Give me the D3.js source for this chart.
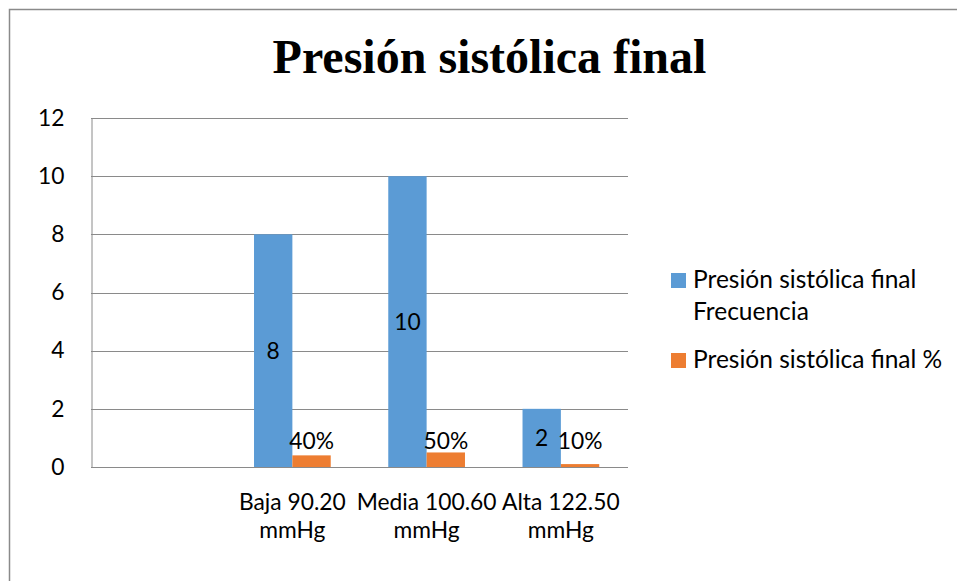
<!DOCTYPE html>
<html>
<head>
<meta charset="utf-8">
<script src="https://cdn.jsdelivr.net/npm/d3@7"></script>
<style>
  html, body { margin: 0; padding: 0; background: #fff; }
  svg { display: block; }
  text { font-family: Lato, "Noto Sans", sans-serif; fill: #000; }
</style>
</head>
<body>
<svg id="chart" width="957" height="581"></svg>
<script>
// Chart content
const title = "Presión sistólica final";
const categories = ["", "Baja 90.20 mmHg", "Media 100.60 mmHg", "Alta 122.50 mmHg"];
const seriesNames = ["Presión sistólica final Frecuencia", "Presión sistólica final %"];
const frecuencia = [null, 8, 10, 2];
const porcentaje = [null, 0.4, 0.5, 0.1];
const yTicks = [0, 2, 4, 6, 8, 10, 12];

const colors = ["#5B9BD5", "#ED7D31"];
const gridColor = "#8a8a8a";
const fontSize = 22.8;
const legendFontSize = 24.5;

const svg = d3.select("#chart");
const W = 957, H = 581;
const plot = { left: 91, top: 118, right: 628, bottom: 467 };

// Outer chart frame
svg.append("path")
  .attr("d", `M9.5,${H} V9.5 H${W}`)
  .attr("fill", "none")
  .attr("stroke", gridColor)
  .attr("stroke-width", 1.5);

// Title
svg.append("text")
  .attr("x", 489.5)
  .attr("y", 73)
  .attr("text-anchor", "middle")
  .style("font-family", "'Liberation Serif', 'Times New Roman', serif")
  .style("font-weight", "bold")
  .style("font-size", "48px")
  .text(title);

// Scales
const x0 = d3.scaleBand()
  .domain(categories)
  .range([plot.left, plot.right])
  .paddingInner(0)
  .paddingOuter(0);

const x1 = d3.scaleBand()
  .domain([0, 1])
  .range([0, x0.bandwidth()])
  .paddingInner(0)
  .paddingOuter(0.75);

const y = d3.scaleLinear()
  .domain([0, 12])
  .range([plot.bottom, plot.top]);

// Horizontal gridlines
svg.append("g")
  .selectAll("line")
  .data(yTicks)
  .join("line")
  .attr("x1", plot.left)
  .attr("x2", plot.right)
  .attr("y1", d => Math.round(y(d)) + 0.5)
  .attr("y2", d => Math.round(y(d)) + 0.5)
  .attr("stroke", gridColor)
  .attr("stroke-width", 1);

// Y axis
const yAxis = svg.append("g")
  .attr("transform", `translate(${plot.left + 0.5},0)`)
  .call(d3.axisLeft(y).tickValues(yTicks).tickSize(0).tickPadding(27));
yAxis.select(".domain").attr("stroke", gridColor);
yAxis.selectAll("text")
  .style("font-family", "Lato, 'Noto Sans', sans-serif")
  .style("font-size", fontSize + "px")
  .attr("fill", "#000");

// Bars
const rows = categories.map((c, i) => ({ cat: c, values: [frecuencia[i], porcentaje[i]] }));

const groups = svg.append("g")
  .selectAll("g")
  .data(rows)
  .join("g")
  .attr("transform", d => `translate(${x0(d.cat)},0)`);

groups.selectAll("rect")
  .data(d => d.values.map((v, k) => ({ v, k })).filter(e => e.v != null))
  .join("rect")
  .attr("x", d => x1(d.k))
  .attr("width", x1.bandwidth())
  .attr("y", d => y(d.v))
  .attr("height", d => y(0) - y(d.v))
  .attr("fill", d => colors[d.k]);

// Frequency labels, centred inside the blue bars
groups.filter(d => d.values[0] != null)
  .append("text")
  .attr("x", x1(0) + x1.bandwidth() / 2)
  .attr("y", d => (y(d.values[0]) + y(0)) / 2)
  .attr("dy", "0.35em")
  .attr("text-anchor", "middle")
  .style("font-size", fontSize + "px")
  .text(d => d.values[0]);

// Percentage labels above the orange bars
groups.filter(d => d.values[1] != null)
  .append("text")
  .attr("x", x1(1) + x1.bandwidth() / 2)
  .attr("y", y(0) - 18)
  .attr("text-anchor", "middle")
  .style("font-size", fontSize + "px")
  .text(d => Math.round(d.values[1] * 100) + "%");

// Category labels, wrapped before the unit
const xLabels = svg.append("g");
categories.forEach(c => {
  if (!c) return;
  const cut = c.lastIndexOf(" ");
  const lines = [c.slice(0, cut), c.slice(cut + 1)];
  const t = xLabels.append("text")
    .attr("x", x0(c) + x0.bandwidth() / 2)
    .attr("y", 510)
    .attr("text-anchor", "middle")
    .style("font-size", fontSize + "px");
  lines.forEach((ln, i) => {
    t.append("tspan")
      .attr("x", x0(c) + x0.bandwidth() / 2)
      .attr("dy", i === 0 ? 0 : 28)
      .text(ln);
  });
});

// Legend
const legend = svg.append("g").attr("transform", "translate(671,0)");
const legendTop = [273, 353];
const maxLegendWidth = 262;
seriesNames.forEach((name, k) => {
  const g = legend.append("g").attr("transform", `translate(0,${legendTop[k]})`);
  g.append("rect")
    .attr("width", 15)
    .attr("height", 15)
    .attr("fill", colors[k]);
  const t = g.append("text")
    .attr("x", 22)
    .attr("y", 15)
    .style("font-size", legendFontSize + "px");
  // word wrap to the available width
  const words = name.split(" ");
  let line = [];
  let span = t.append("tspan").attr("x", 22).attr("dy", 0);
  words.forEach(w => {
    line.push(w);
    span.text(line.join(" "));
    if (span.node().getComputedTextLength() > maxLegendWidth && line.length > 1) {
      line.pop();
      span.text(line.join(" "));
      line = [w];
      span = t.append("tspan").attr("x", 22).attr("dy", 32).text(w);
    }
  });
});
</script>
</body>
</html>
